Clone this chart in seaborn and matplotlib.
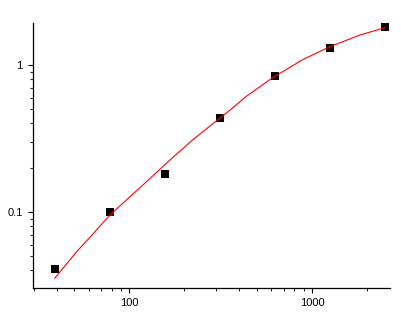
import matplotlib
matplotlib.use("Agg")
import matplotlib.pyplot as plt
import seaborn as sns
import pandas as pd
from matplotlib.ticker import FixedLocator, FixedFormatter, LogLocator, NullFormatter

# data points (concentration, response)
conc = [39.0625, 78.125, 156.25, 312.5, 625, 1250, 2500]
resp = [0.0407, 0.100, 0.182, 0.434, 0.842, 1.30, 1.80]

# fitted curve
fit_x = [39.05, 51.5, 60.9, 78.4, 116.9, 167.0, 224.0, 288.3, 352.6, 439.1,
         614, 896, 1254, 1831, 2509]
fit_y = [0.0354, 0.0537, 0.0673, 0.0955, 0.150, 0.226, 0.312, 0.401, 0.489, 0.615,
         0.825, 1.093, 1.332, 1.600, 1.794]

x_ticks = [100, 1000]
x_labels = ["100", "1000"]
y_ticks = [0.1, 1]
y_labels = ["0.1", "1"]

sns.set_style("ticks")
plt.rcParams['font.family'] = ['Liberation Sans', 'DejaVu Sans']

fig = plt.figure(figsize=(4.02, 3.25), dpi=100)
ax = fig.add_axes([33/402, 1-288/325, (390-33)/402, (288-23)/325])

pts = pd.DataFrame({"x": conc, "y": resp})
fit = pd.DataFrame({"x": fit_x, "y": fit_y})

sns.scatterplot(data=pts, x="x", y="y", marker="s", s=26, color="black",
                edgecolor="black", linewidth=0, ax=ax, zorder=2)
sns.lineplot(data=fit, x="x", y="y", color="red", linewidth=0.8, ax=ax,
             zorder=3, sort=True, estimator=None)

ax.set_xscale("log")
ax.set_yscale("log")
ax.set_xlim(29.7, 2673)
ax.set_ylim(0.0304, 1.931)

ax.xaxis.set_major_locator(FixedLocator(x_ticks))
ax.xaxis.set_major_formatter(FixedFormatter(x_labels))
ax.yaxis.set_major_locator(FixedLocator(y_ticks))
ax.yaxis.set_major_formatter(FixedFormatter(y_labels))
ax.xaxis.set_minor_locator(LogLocator(base=10, subs=range(2, 10)))
ax.yaxis.set_minor_locator(LogLocator(base=10, subs=range(2, 10)))
ax.xaxis.set_minor_formatter(NullFormatter())
ax.yaxis.set_minor_formatter(NullFormatter())

ax.set_xlabel("")
ax.set_ylabel("")
for side in ["top", "right"]:
    ax.spines[side].set_visible(False)
for side in ["left", "bottom"]:
    ax.spines[side].set_linewidth(0.9)
    ax.spines[side].set_color("black")

ax.tick_params(which="major", length=3.5, width=0.8, direction="out",
               labelsize=8, pad=4, colors="black")
ax.tick_params(which="minor", length=2, width=0.8, direction="out")

fig.savefig("out.png", dpi=100)
